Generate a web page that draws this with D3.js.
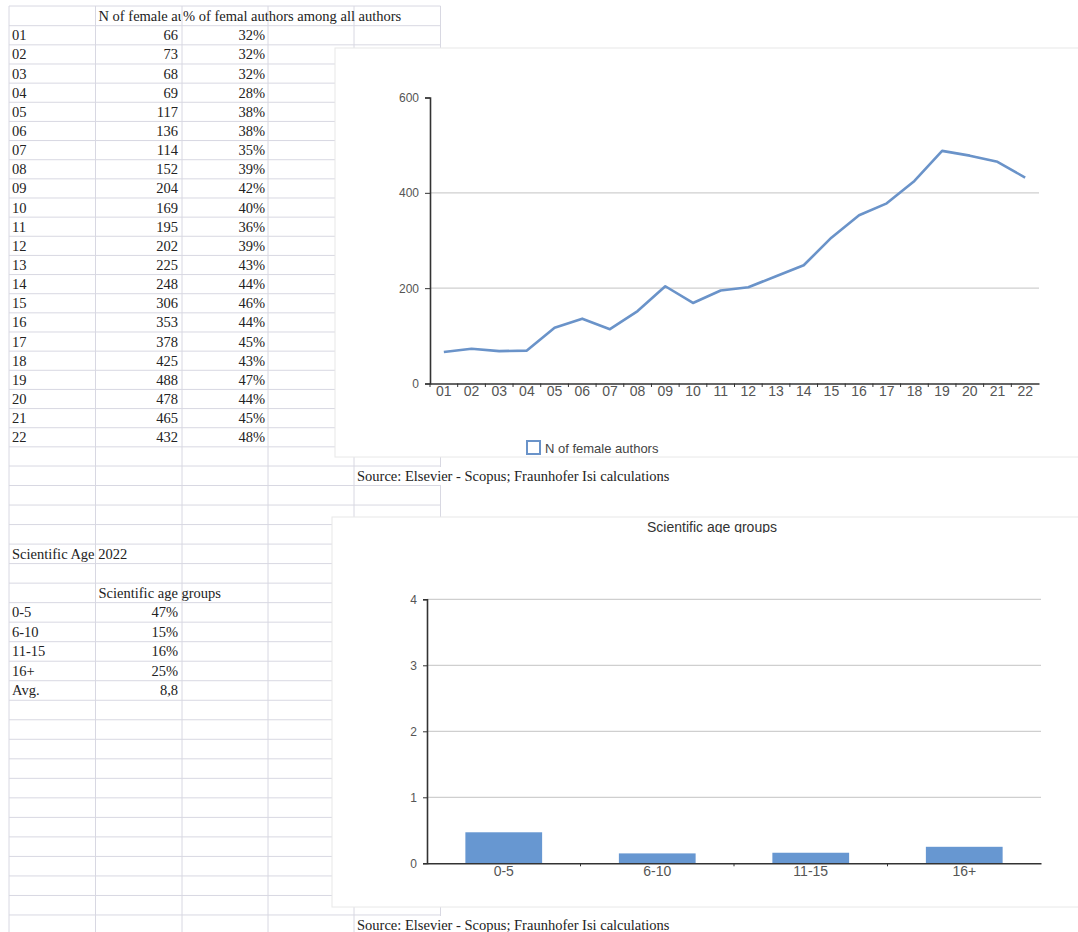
<!DOCTYPE html>
<html>
<head>
<meta charset="utf-8">
<script src="https://cdn.jsdelivr.net/npm/d3@7"></script>
<style>
  body { margin: 0; background: #fff; }
  svg { display: block; }
  .cell { font-family: "Liberation Serif", "Times New Roman", serif; font-size: 14.5px; fill: #222; }
  .axis text { font-family: "Liberation Sans", Arial, sans-serif; fill: #555; }
</style>
</head>
<body>
<svg id="sheet" width="1078" height="932"></svg>
<script>
// spreadsheet data
const years = ["01","02","03","04","05","06","07","08","09","10","11",
               "12","13","14","15","16","17","18","19","20","21","22"];
const femaleAuthors = [66,73,68,69,117,136,114,152,204,169,195,202,225,248,306,353,378,425,488,478,465,432];
const femaleShare = [32,32,32,28,38,38,35,39,42,40,36,39,43,44,46,44,45,43,47,44,45,48];

const ageGroups = ["0-5", "6-10", "11-15", "16+"];
const ageShare = [0.47, 0.15, 0.16, 0.25];
const avgAge = "8,8";

const headerB = "N of female authors";
const headerC = "% of femal authors among all authors";
const sourceText = "Source: Elsevier - Scopus; Fraunhofer Isi calculations";

const svg = d3.select("#sheet");

// grid of the sheet
const colX = [9, 95.5, 182, 268, 354, 440.5];
const rowY = d3.scaleLinear().domain([0, 1, 24, 48]).range([6, 25.7, 466, 934.5]);
const rowMid = (i) => (rowY(i) + rowY(i + 1)) / 2 + 5;

const grid = svg.append("g").attr("stroke", "#d8d8e2").attr("stroke-width", 1);
d3.range(0, 49).forEach((i) => {
  grid.append("line")
    .attr("x1", colX[0]).attr("x2", colX[colX.length - 1])
    .attr("y1", rowY(i)).attr("y2", rowY(i));
});
colX.forEach((x) => {
  grid.append("line")
    .attr("x1", x).attr("x2", x)
    .attr("y1", rowY(0)).attr("y2", 932);
});

// header row
svg.append("clipPath").attr("id", "clipB")
  .append("rect").attr("x", colX[1]).attr("y", rowY(0))
  .attr("width", colX[2] - colX[1] - 1).attr("height", rowY(1) - rowY(0));
svg.append("text").attr("class", "cell").attr("clip-path", "url(#clipB)")
  .attr("x", colX[1] + 3).attr("y", rowMid(0)).text(headerB);
svg.append("text").attr("class", "cell")
  .attr("x", colX[2] + 1).attr("y", rowMid(0)).text(headerC);

// year rows
const rows = svg.append("g");
years.forEach((yr, i) => {
  rows.append("text").attr("class", "cell").attr("x", 12).attr("y", rowMid(i + 1)).text(yr);
  rows.append("text").attr("class", "cell").attr("text-anchor", "end")
    .attr("x", colX[2] - 4).attr("y", rowMid(i + 1)).text(femaleAuthors[i]);
  rows.append("text").attr("class", "cell").attr("text-anchor", "end")
    .attr("x", colX[3] - 3).attr("y", rowMid(i + 1)).text(femaleShare[i] + "%");
});

// scientific age block
svg.append("text").attr("class", "cell").attr("x", 12).attr("y", rowMid(28)).text("Scientific Age 2022");
svg.append("text").attr("class", "cell").attr("x", colX[1] + 3).attr("y", rowMid(30)).text("Scientific age groups");
ageGroups.concat(["Avg."]).forEach((g, i) => {
  const val = i < ageGroups.length ? Math.round(ageShare[i] * 100) + "%" : avgAge;
  svg.append("text").attr("class", "cell").attr("x", 12).attr("y", rowMid(31 + i)).text(g);
  svg.append("text").attr("class", "cell").attr("text-anchor", "end")
    .attr("x", colX[2] - 4).attr("y", rowMid(31 + i)).text(val);
});

// source notes (overflowing cells hide the grid behind them)
[24, 47].forEach((r) => {
  svg.append("rect").attr("x", colX[4] + 1).attr("y", rowY(r) + 1)
    .attr("width", 330).attr("height", rowY(r + 1) - rowY(r) - 1.5).attr("fill", "#fff");
  svg.append("text").attr("class", "cell").attr("x", colX[4] + 3).attr("y", rowMid(r)).text(sourceText);
});

// ---------- chart 1: line chart ----------
svg.append("rect").attr("x", 335).attr("y", 48).attr("width", 760).attr("height", 409)
  .attr("fill", "#fff").attr("stroke", "#e8e8e8");

const lineColor = "#6a93c9";
const x1 = d3.scaleBand().domain(years).range([430, 1039]);
const y1 = d3.scaleLinear().domain([0, 600]).range([383.5, 97.5]);

const c1 = svg.append("g");
c1.append("g").selectAll("line").data([200, 400]).join("line")
  .attr("x1", 430).attr("x2", 1039)
  .attr("y1", (d) => y1(d)).attr("y2", (d) => y1(d))
  .attr("stroke", "#cfcfcf").attr("stroke-width", 1.2);

c1.append("path")
  .datum(femaleAuthors)
  .attr("fill", "none")
  .attr("stroke", lineColor)
  .attr("stroke-width", 2.6)
  .attr("stroke-linejoin", "round")
  .attr("d", d3.line().x((d, i) => x1(years[i]) + x1.bandwidth() / 2).y((d) => y1(d)));

const yAxis1 = c1.append("g").attr("class", "axis").attr("transform", "translate(430,0)")
  .call(d3.axisLeft(y1).tickValues([0, 200, 400, 600]).tickSize(5).tickPadding(6));
yAxis1.selectAll("text").attr("font-size", 12);

const xAxis1 = c1.append("g").attr("class", "axis").attr("transform", "translate(0,383.5)")
  .call(d3.axisBottom(x1).tickSize(0).tickPadding(3));
xAxis1.selectAll("text").attr("font-size", 14);
xAxis1.append("g").selectAll("line").data(years).join("line")
  .attr("x1", (d) => x1(d)).attr("x2", (d) => x1(d))
  .attr("y1", 0).attr("y2", 3.5).attr("stroke", "#333");
[yAxis1, xAxis1].forEach((a) => a.select(".domain").attr("stroke", "#333").attr("stroke-width", 1.6));
yAxis1.selectAll(".tick line").attr("stroke", "#333");

// legend
svg.append("rect").attr("x", 527).attr("y", 441).attr("width", 13).attr("height", 13)
  .attr("fill", "#fff").attr("stroke", lineColor).attr("stroke-width", 2);
svg.append("text").attr("x", 545).attr("y", 452.5)
  .attr("font-family", "Liberation Sans, Arial, sans-serif").attr("font-size", 13).attr("fill", "#444")
  .text("N of female authors");

// ---------- chart 2: bar chart ----------
svg.append("rect").attr("x", 332).attr("y", 517).attr("width", 760).attr("height", 390)
  .attr("fill", "#fff").attr("stroke", "#e8e8e8");

svg.append("clipPath").attr("id", "clipTitle")
  .append("rect").attr("x", 332).attr("y", 517).attr("width", 746).attr("height", 16);
svg.append("text").attr("clip-path", "url(#clipTitle)")
  .attr("x", 712).attr("y", 532).attr("text-anchor", "middle")
  .attr("font-family", "Liberation Sans, Arial, sans-serif").attr("font-size", 14).attr("fill", "#333")
  .text("Scientific age groups");

const x2 = d3.scaleBand().domain(ageGroups).range([427, 1041]).paddingInner(0.5).paddingOuter(0.25);
const xb = d3.scaleBand().domain(ageGroups).range([427, 1041]);
const y2 = d3.scaleLinear().domain([0, 4]).range([863.3, 599.3]);

const c2 = svg.append("g");
c2.append("g").selectAll("line").data([1, 2, 3, 4]).join("line")
  .attr("x1", 427).attr("x2", 1041)
  .attr("y1", (d) => y2(d)).attr("y2", (d) => y2(d))
  .attr("stroke", "#cfcfcf").attr("stroke-width", 1.2);

c2.append("g").selectAll("rect").data(ageShare).join("rect")
  .attr("x", (d, i) => x2(ageGroups[i]))
  .attr("width", x2.bandwidth())
  .attr("y", (d) => y2(d))
  .attr("height", (d) => y2(0) - y2(d))
  .attr("fill", "#6797d1");

const yAxis2 = c2.append("g").attr("class", "axis").attr("transform", "translate(427,0)")
  .call(d3.axisLeft(y2).tickValues([0, 1, 2, 3, 4]).tickFormat(d3.format("d")).tickSize(4).tickPadding(6));
yAxis2.selectAll("text").attr("font-size", 12);

const xAxis2 = c2.append("g").attr("class", "axis").attr("transform", "translate(0,863.3)")
  .call(d3.axisBottom(xb).tickSize(0).tickPadding(2.5));
xAxis2.selectAll("text").attr("font-size", 14);
xAxis2.append("g").selectAll("line").data(ageGroups.slice(1)).join("line")
  .attr("x1", (d) => xb(d)).attr("x2", (d) => xb(d))
  .attr("y1", 0).attr("y2", 3).attr("stroke", "#333");
[yAxis2, xAxis2].forEach((a) => a.select(".domain").attr("stroke", "#333").attr("stroke-width", 1.6));
yAxis2.selectAll(".tick line").attr("stroke", "#333");
</script>
</body>
</html>
